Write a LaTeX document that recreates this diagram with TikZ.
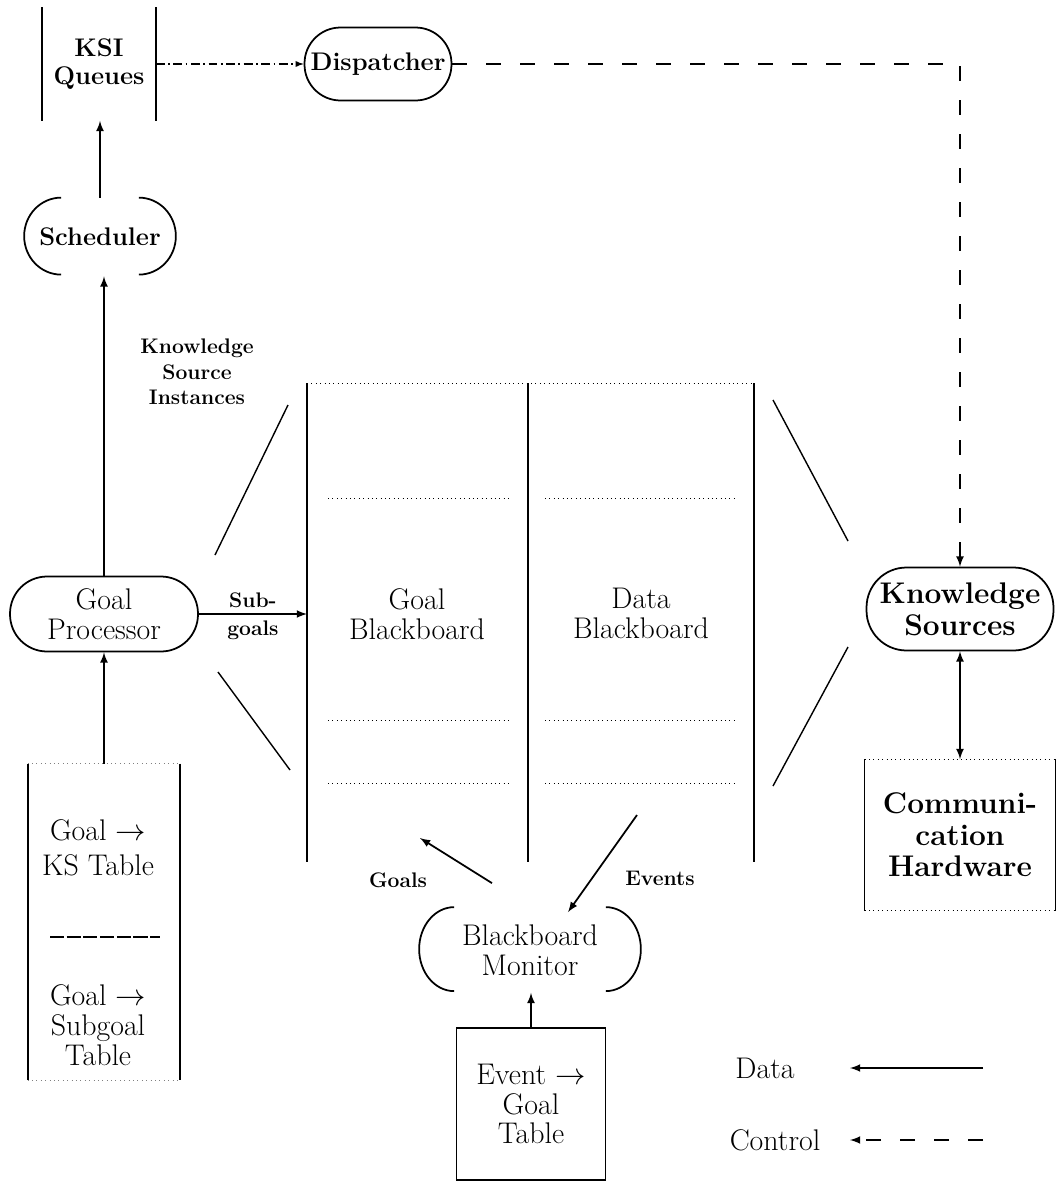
\documentclass[tikz,border=0pt]{standalone}
\usepackage{amsmath}
\usepackage{amssymb}
\usepackage{tikz}

\newcommand\bigtext{\fontsize{17}{17}\selectfont}
\newcommand\midtext{\fontsize{14.5}{16}\selectfont\bfseries}
\newcommand\kstext{\fontsize{17}{18}\selectfont\bfseries}
\newcommand\smalltext{\fontsize{12}{14.5}\selectfont\bfseries}
% left and right bracket arcs round a node
\newcommand\parenpair[3]{%
  \draw (#1.north west) ++(#2,0) arc[start angle=90, end angle=270, x radius=#2, y radius=#3];
  \draw (#1.north east) ++(-#2,0) arc[start angle=90, end angle=-90, x radius=#2, y radius=#3];}

\begin{document}
\begin{tikzpicture}[x=0.02cm, y=-0.02cm, line width=1pt,
    dataflow/.style={-latex},
    ctrlflow/.style={-latex, dash pattern=on 0.3cm off 0.38cm},
    fineline/.style={line width=0.5pt, dotted},
    every node/.style={align=center, font=\bigtext}]
    \useasboundingbox (0,0) rectangle (1058,1183);

    % top row
    \node[font=\midtext, minimum width=2.24cm, minimum height=2.24cm] (ksi) at (99,64) {KSI\\Queues};
    \draw (ksi.north west) -- (ksi.south west);
    \draw (ksi.north east) -- (ksi.south east);
    \node[draw, rounded corners=0.72cm, font=\midtext, minimum width=2.94cm, minimum height=1.46cm, inner sep=1pt] (disp) at (378,64) {Dispatcher};
    \draw[-latex, line width=0.6pt, dash pattern=on 5pt off 2pt on 1pt off 2pt] (ksi.east) -- (disp.west);

    \node[font=\midtext, minimum width=3cm, minimum height=1.54cm] (sched) at (100,237) {Scheduler};
    \parenpair{sched}{0.74cm}{0.77cm}
    \draw[dataflow] (sched.north) -- (sched.north |- ksi.south);

    % goal processor
    \node[draw, rounded corners=0.74cm, minimum width=3.76cm, minimum height=1.5cm, inner sep=1pt] (gp) at (104,614) {Goal\\Processor};
    \draw[dataflow] (gp.north) -- (gp.north |- sched.south);
    \node[font=\smalltext] (kslbl) at (197,372) {Knowledge\\Source\\Instances};

    % blackboards
    \coordinate (bbnw) at (307,383);
    \coordinate (bbn) at (528,383);
    \coordinate (bbne) at (754,383);
    \draw (bbnw) -- (307,862);
    \draw (bbn) -- (528,862);
    \draw (bbne) -- (754,862);
    \draw[fineline] (bbnw) -- (bbne);
    \foreach \y in {498,720,783} {
        \draw[fineline] (328,\y) -- (512,\y);
        \draw[fineline] (545,\y) -- (735,\y);
    }
    \node (gbb) at (417,614) {Goal\\Blackboard};
    \node (dbb) at (641,613) {Data\\Blackboard};
    \draw[dataflow] (gp.east) -- node[above, font=\smalltext] {Sub-} node[below, font=\smalltext] {goals} (gp.east -| bbnw);

    \draw[line width=0.8pt] (215,555) -- (288,405);
    \draw[line width=0.8pt] (218,672) -- (290,770);
    \draw[line width=0.8pt] (773,400) -- (848,541);
    \draw[line width=0.8pt] (848,647) -- (773,786);

    % knowledge sources
    \node[draw, rounded corners=0.8cm, font=\kstext, minimum width=3.74cm, minimum height=1.66cm, inner sep=1pt] (ks) at (960,609) {Knowledge\\Sources};
    \draw[ctrlflow] (disp.east) -| (ks.north);
    \node[font=\kstext, minimum width=3.78cm, minimum height=3cm] (comm) at (960,835) {Communi-\\cation\\Hardware};
    \draw[line width=0.6pt] (comm.north west) -- (comm.south west);
    \draw[line width=0.6pt] (comm.north east) -- (comm.south east);
    \draw[fineline] (comm.north west) -- (comm.north east);
    \draw[fineline] (comm.south west) -- (comm.south east);
    \draw[latex-latex] (ks.south) -- (comm.north);

    % goal tables
    \node[minimum width=3.02cm, minimum height=6.3cm] (gkst) at (104,922) {};
    \draw (gkst.north west) -- (gkst.south west);
    \draw (gkst.north east) -- (gkst.south east);
    \draw[fineline, black!50] (gkst.north west) -- (gkst.north east);
    \draw[fineline, black!50] (gkst.south west) -- (gkst.south east);
    \node (gks) at (98,848) {Goal $\rightarrow$\\[3pt]KS Table};
    \draw[line width=0.6pt, dash pattern=on 8pt off 1.5pt] (50,937) -- (160,937);
    \node (gsub) at (98,1025) {Goal $\rightarrow$\\Subgoal\\Table};
    \draw[dataflow] (gkst.north) -- (gkst.north |- gp.south);

    % monitor
    \node[minimum width=4.4cm, minimum height=1.68cm] (bbm) at (530,950) {Blackboard\\Monitor};
    \parenpair{bbm}{0.7cm}{0.84cm}
    \node[draw, minimum width=2.98cm, minimum height=3.04cm] (egt) at (531,1104) {Event $\rightarrow$\\Goal\\Table};
    \draw[dataflow] (egt.north) -- (egt.north |- bbm.south);
    \coordinate (goaltip) at (420,838);
    \coordinate (evtail) at (637,815);
    \draw[dataflow] ([xshift=-0.76cm, yshift=0.48cm]bbm.north) -- (goaltip);
    \draw[dataflow] (evtail) -- ([xshift=0.76cm, yshift=-0.1cm]bbm.north);
    \node[font=\smalltext] (goalslbl) at (398,880) {Goals};
    \node[font=\smalltext] (evlbl) at (660,878) {Events};

    % legend
    \node (ldata) at (765,1068) {Data};
    \node (lctrl) at (775,1140) {Control};
    \coordinate (ldatatail) at (983,1068);
    \coordinate (ldatatip) at (850,1068);
    \coordinate (lctrltail) at (983,1140);
    \coordinate (lctrltip) at (850,1140);
    \draw[dataflow] (ldatatail) -- (ldatatip);
    \draw[ctrlflow] (lctrltail) -- (lctrltip);
\end{tikzpicture}
\end{document}
